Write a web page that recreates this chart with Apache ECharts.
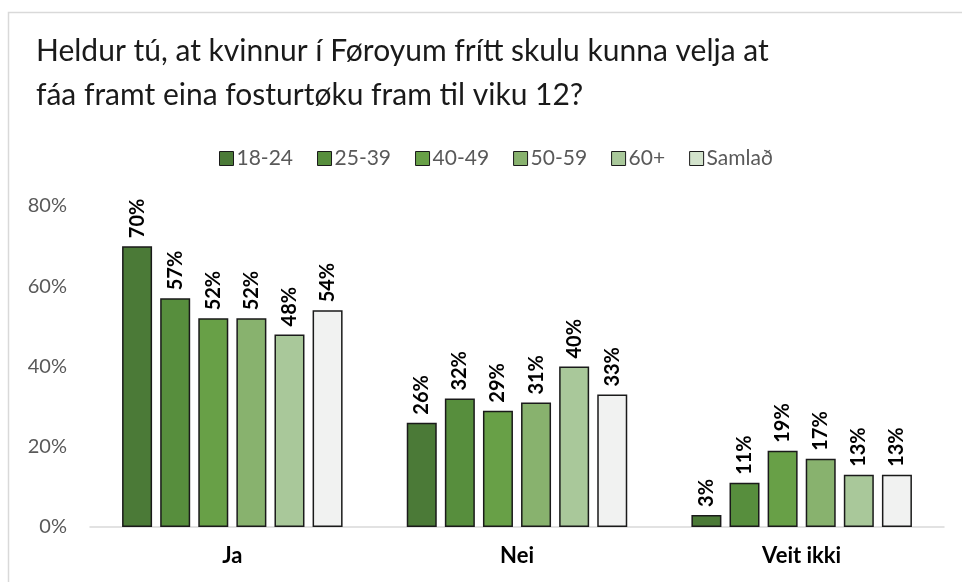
<!DOCTYPE html>
<html>
<head>
<meta charset="utf-8">
<script src="https://cdn.jsdelivr.net/npm/echarts@6/dist/echarts.min.js"></script>
<style>
html,body{margin:0;padding:0;background:#fff;}
#chart{width:962px;height:582px;}
</style>
</head>
<body>
<div id="chart"></div>
<script>
var categories = ['Ja', 'Nei', 'Veit ikki'];
var groups = ['18-24', '25-39', '40-49', '50-59', '60+', 'Samlað'];
var values = [
	[70, 26, 3],
	[57, 32, 11],
	[52, 29, 19],
	[52, 31, 17],
	[48, 40, 13],
	[54, 33, 13]
];
var yTicks = [0, 20, 40, 60, 80];
var colors = ['#4b7a37', '#578e3d', '#68a047', '#88b26e', '#a9c89a', '#f1f2f1'];
var legendColors = ['#4b7a37', '#578e3d', '#68a047', '#88b26e', '#a9c89a', '#d3e3cc'];

function drawChart(id){
	var font = 'Lato, "Open Sans", sans-serif';
	var series = [];
	for (var i = 0; i < groups.length; i++) {
		series.push({
			name: groups[i],
			type: 'bar',
			data: values[i],
			barWidth: 30,
			barGap: '27%',
			itemStyle: {
				color: colors[i],
				borderColor: '#1a1a1a',
				borderWidth: 1.5
			},
			label: {
				show: true,
				position: 'top',
				rotate: 90,
				align: 'left',
				verticalAlign: 'middle',
				distance: 8,
				formatter: '{c}%',
				color: '#000',
				fontWeight: 'bold',
				fontSize: 20,
				fontFamily: font
			}
		});
	}
	var option = {
		backgroundColor: '#fff',
		animation: false,
		title: {
			text: 'Heldur tú, at kvinnur í Føroyum frítt skulu kunna velja at\nfáa framt eina fosturtøku fram til viku 12?',
			left: 31,
			top: 24,
			textStyle: {
				color: '#1a1a1a',
				fontWeight: 'normal',
				fontSize: 30,
				lineHeight: 44,
				fontFamily: font
			}
		},
		legend: {
			top: 143,
			left: 214,
			itemWidth: 14,
			itemHeight: 14,
			itemGap: 24,
			icon: 'rect',
			textStyle: {
				color: '#595959',
				fontSize: 21,
				fontFamily: font,
				padding: [0, 0, 0, -2]
			},
			data: groups.map(function (g, i) {
				return {
					name: g,
					itemStyle: { color: legendColors[i], borderColor: '#1a1a1a', borderWidth: 1 }
				};
			})
		},
		grid: {
			left: 90,
			right: 18,
			top: 206,
			bottom: 55
		},
		xAxis: {
			type: 'category',
			data: categories,
			axisTick: { show: false },
			axisLine: { lineStyle: { color: '#d9d9d9', width: 1.5 } },
			axisLabel: {
				color: '#000',
				fontWeight: 'bold',
				fontSize: 22,
				margin: 18,
				fontFamily: font
			}
		},
		yAxis: {
			type: 'value',
			min: yTicks[0],
			max: yTicks[yTicks.length - 1],
			interval: 20,
			splitLine: { show: false },
			axisLine: { show: false },
			axisTick: { show: false },
			axisLabel: {
				formatter: '{value}%',
				color: '#595959',
				fontSize: 20,
				margin: 23,
				fontFamily: font
			}
		},
		graphic: [{
			type: 'rect',
			shape: { x: 8.5, y: 12.5, width: 1000, height: 1000 },
			style: { fill: 'none', stroke: '#d9d9d9', lineWidth: 1.5 },
			silent: true
		}],
		series: series
	};
	var myChart = echarts.init(document.getElementById(id));
	myChart.setOption(option);
}
drawChart('chart');
</script>
</body>
</html>
